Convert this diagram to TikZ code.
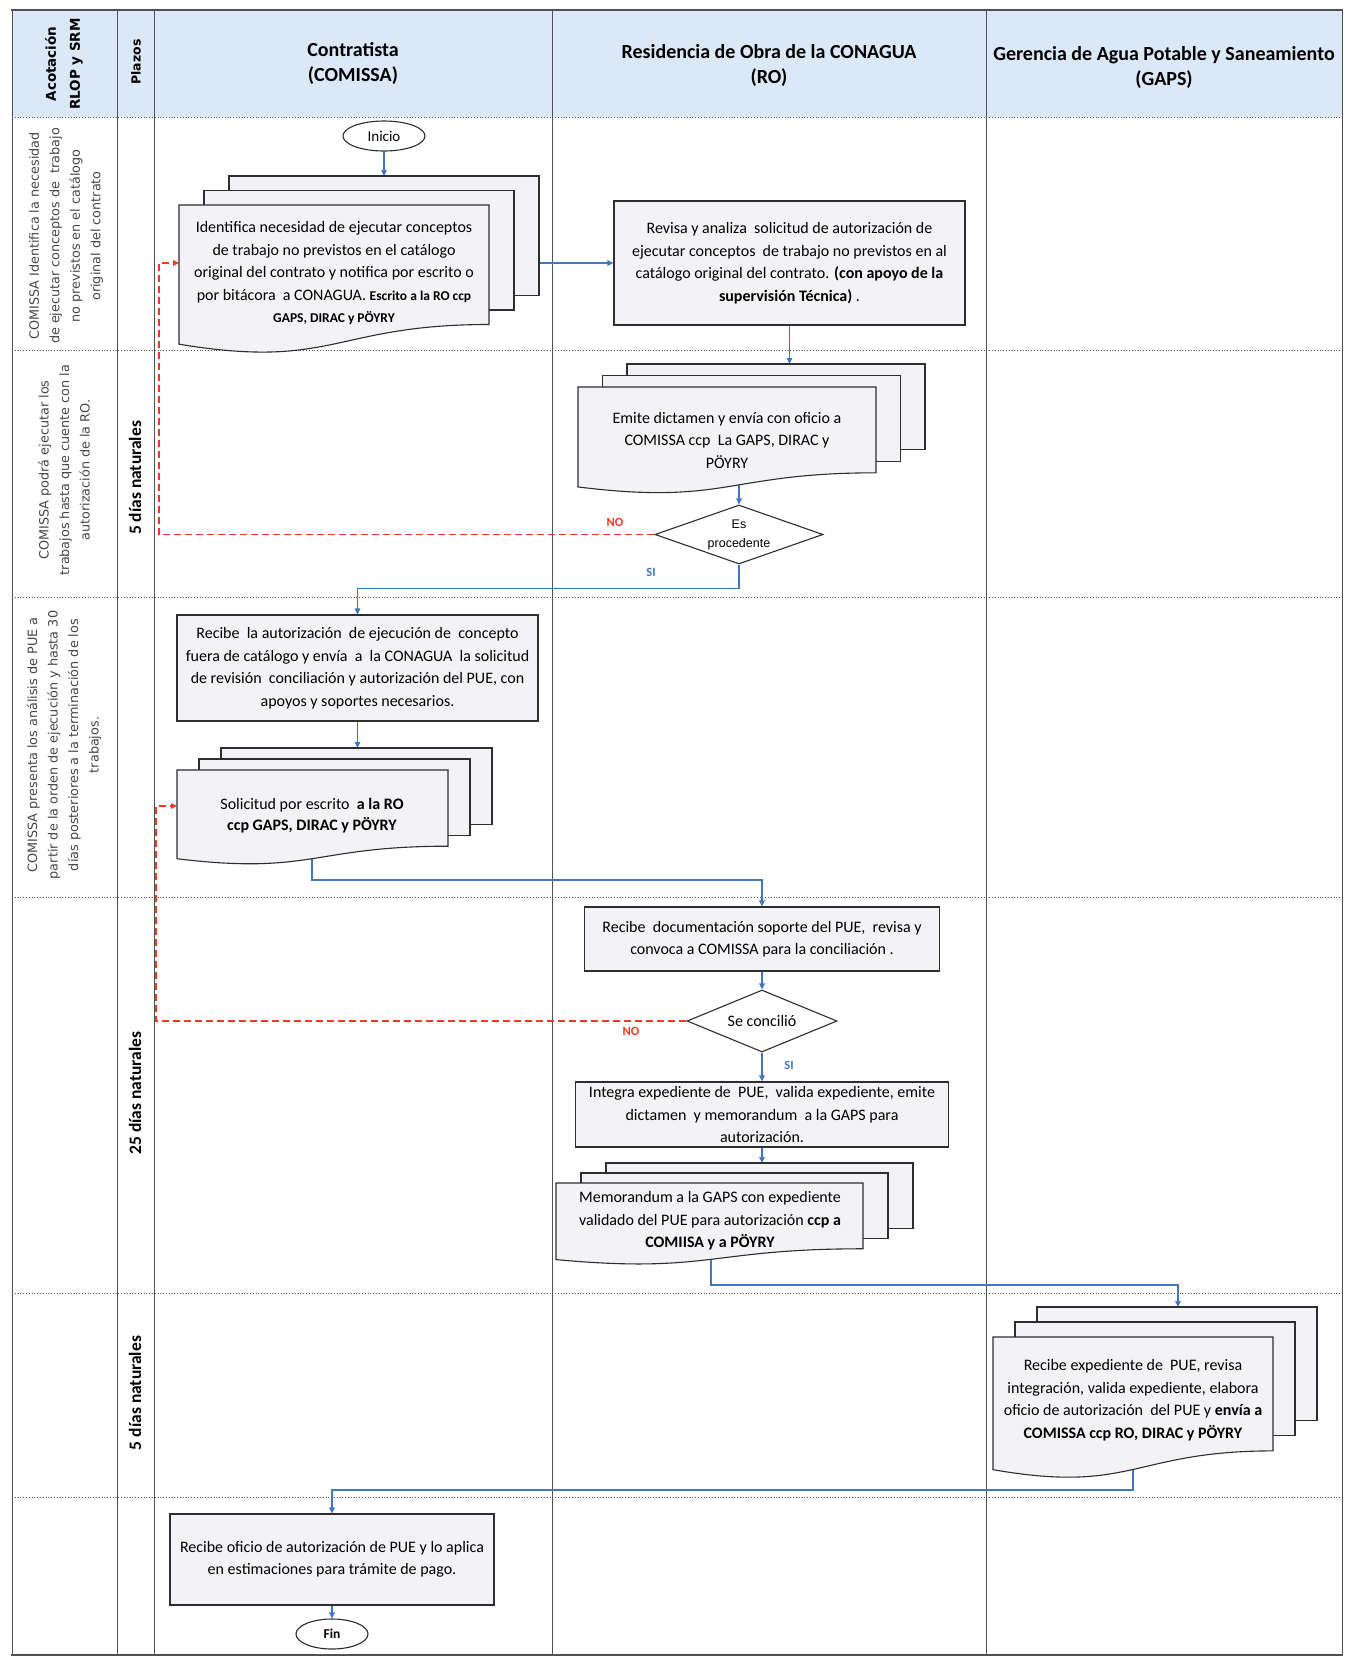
\documentclass[tikz,border=0pt]{standalone}
\usepackage{fontspec}
\setmainfont{Carlito}
\newfontfamily\dvs{DejaVu Sans}
\newfontfamily\lib{Liberation Sans}
\usetikzlibrary{arrows.meta,shapes.geometric,calc}
\pgfdeclarelayer{bg}
\pgfdeclarelayer{conn}
\pgfsetlayers{bg,conn,main}
\definecolor{hdr}{RGB}{218,232,247}
\definecolor{boxfill}{RGB}{243,243,246}
\definecolor{flow}{RGB}{62,120,192}
\definecolor{noline}{RGB}{236,58,36}
\definecolor{edge}{RGB}{45,45,50}
\definecolor{gridc}{RGB}{80,80,85}
\definecolor{note}{RGB}{70,70,75}
\tikzset{
  boxtxt/.style={font=\fontsize{16}{22.5}\selectfont, align=center, text=black},
  proc/.style={draw=edge, line width=1.1pt, fill=boxfill, inner sep=0pt, boxtxt},
  docline/.style={draw=edge, line width=1.1pt, fill=boxfill},
  flowarrow/.style={draw=flow, line width=1.4pt, -{Triangle[length=6pt,width=5.5pt]}},
  noarrow/.style={draw=noline, line width=1.9pt, dash pattern=on 7pt off 4pt, -{Triangle[length=6pt,width=5.5pt]}},
  term/.style={ellipse, draw=edge, line width=1.1pt, fill=white, inner sep=0pt},
  dec/.style={diamond, draw=edge, line width=1.1pt, fill=white, inner sep=0pt},
  annot/.style={rotate=90, align=center, text=note, font=\dvs\fontsize{12.8}{20.5}\selectfont},
  plazo/.style={rotate=90, font=\bfseries\fontsize{17.5}{20}\selectfont},
  hdrtxt/.style={font=\bfseries\fontsize{20}{25}\selectfont, align=center},
  nolbl/.style={font=\bfseries\fontsize{12.5}{14}\selectfont, text=noline},
  silbl/.style={font=\bfseries\fontsize{12.5}{14}\selectfont, text=flow},
  anchorbox/.style={inner sep=0pt, outer sep=0pt}
}
% multidocument: name, L, R, T, h, dx, dy
\newcommand\mdoc[7]{%
  \pgfmathsetmacro\mdyR{#4+0.802*#5}%
  \pgfmathsetmacro\mdyL{#4+0.934*#5}%
  \pgfmathsetmacro\mdyC{#4+1.107*#5}%
  \pgfmathsetmacro\mdxM{(#2+#3)/2}%
  \pgfmathsetmacro\mdW{#3-#2}%
  \pgfmathsetmacro\mdH{\mdyL-#4}%
  \pgfmathsetmacro\mdYc{(#4+\mdyL)/2}%
  \pgfmathsetmacro\mdWa{#3+2*#6-#2}%
  \pgfmathsetmacro\mdHa{\mdyL-#4+2*#7}%
  \pgfmathsetmacro\mdXa{(#2+#3+2*#6)/2}%
  \pgfmathsetmacro\mdYa{(#4-2*#7+\mdyL)/2}%
  \draw[docline] (#2+2*#6,#4-2*#7) rectangle (#3+2*#6,\mdyR-2*#7);
  \draw[docline] (#2+#6,#4-#7) rectangle (#3+#6,\mdyR-#7);
  \draw[docline] (#2,#4) -- (#3,#4) -- (#3,\mdyR) .. controls (\mdxM,\mdyR) and (\mdxM,\mdyC) .. (#2,\mdyL) -- cycle;
  \path (\mdxM,\mdYc) node[anchorbox, minimum width=\mdW pt, minimum height=\mdH pt] (#1f) {};
  \path (\mdXa,\mdYa) node[anchorbox, minimum width=\mdWa pt, minimum height=\mdHa pt] (#1) {};
}
\begin{document}
\begin{tikzpicture}[x=1pt,y=-1pt]
\useasboundingbox (0,0) rectangle (1346,1658);
\begin{pgfonlayer}{bg}
  \fill[white] (0,0) rectangle (1346,1658);
  \fill[hdr] (12,10) rectangle (1342,117);
  \foreach \yy in {117,350,597,897,1293,1497}
    \draw[gridc, line width=0.8pt, dotted] (12,\yy) -- (1342,\yy);
  \foreach \xx in {12,117,154,552,986,1342}
    \draw[gridc, line width=0.9pt] (\xx,10) -- (\xx,1655);
  \draw[gridc, line width=2.6pt] (11,10) -- (1343,10);
  \draw[gridc, line width=1.4pt] (11,1655) -- (1343,1655);
\end{pgfonlayer}

% header
\node[rotate=90, font=\dvs\bfseries\fontsize{13.5}{24}\selectfont, align=center] (h1) at (64,64) {Acotación\\RLOP y SRM};
\node[rotate=90, font=\dvs\bfseries\fontsize{12.5}{14}\selectfont] (h2) at (136,62) {Plazos};
\node[hdrtxt] (h3) at (353,63) {Contratista\\(COMISSA)};
\node[hdrtxt] (h4) at (769,65) {Residencia de Obra de la CONAGUA\\(RO)};
\node[hdrtxt] (h5) at (1164,67) {Gerencia de Agua Potable y Saneamiento\\(GAPS)};

% left annotations
\node[annot] (a1) at (66,236) {COMISSA Identifica la necesidad\\de ejecutar conceptos de\ \ trabajo\\no previstos en el catálogo\\original del contrato};
\node[annot] (a2) at (64,470) {COMISSA podrá ejecutar los\\trabajos hasta que cuente con la\\autorización de la RO.};
\node[annot] (a3) at (64,745) {COMISSA presenta los análisis de PUE a\\partir de la orden de ejecución y hasta 30\\días posteriores a la terminación de los\\trabajos.};
\node[plazo] (p2) at (135,478) {5 días naturales};
\node[plazo] (p4) at (135,1093) {25 días naturales};
\node[plazo] (p5) at (135,1393) {5 días naturales};

% shapes
\node[term, minimum width=82pt, minimum height=30pt, font=\fontsize{15}{16}\selectfont] (ini) at (384,136) {Inicio};
\mdoc{sa}{179}{489}{205}{149}{25}{14.5}
\node[boxtxt] (sat) at (334,273) {Identifica necesidad de ejecutar conceptos\\de trabajo no previstos en el catálogo\\original del contrato y notifica por escrito o\\por bitácora\ \ a CONAGUA. {\bfseries\fontsize{13.5}{22.5}\selectfont Escrito a la RO ccp}\\{\bfseries\fontsize{13.5}{22.5}\selectfont GAPS, DIRAC y PÖYRY}};
\node[proc, minimum width=351pt, minimum height=124pt] (rev) at (789.5,263) {Revisa y analiza\ \ solicitud de autorización de\\ejecutar conceptos\ \ de trabajo no previstos en al\\catálogo original del contrato. \textbf{(con apoyo de la}\\\textbf{supervisión Técnica)} .};
\mdoc{sb}{578}{876}{387}{107}{24.5}{11.5}
\node[boxtxt] (sbt) at (727,440) {Emite dictamen y envía con oficio a\\COMISSA ccp\ \ La GAPS, DIRAC y\\PÖYRY};
\node[dec, shape aspect=2.85, minimum width=168pt, minimum height=59pt, font=\lib\fontsize{12.5}{19}\selectfont, align=center] (d1) at (739,534.5) {Es\\procedente};
\node[nolbl] (no1) at (615,522) {NO};
\node[silbl] (si1) at (651,572) {SI};

\node[proc, minimum width=361pt, minimum height=106pt] (b3) at (357.5,668) {Recibe\ \ la autorización\ \ de ejecución de\ \ concepto\\fuera de catálogo y envía\ \ a\ \ la CONAGUA\ \ la solicitud\\de revisión\ \ conciliación y autorización del PUE, con\\apoyos y soportes necesarios.};
\mdoc{sc}{177}{448}{770}{95}{22}{11}
\node[boxtxt, font=\fontsize{16}{21}\selectfont] (sct) at (312,816) {Solicitud por escrito\ \ \textbf{a la RO}\\\textbf{ccp GAPS, DIRAC y PÖYRY}};

\node[proc, minimum width=355pt, minimum height=64pt] (b4) at (762,939) {Recibe\ \ documentación soporte del PUE,\ \ revisa y\\convoca a COMISSA para la conciliación .};
\node[dec, shape aspect=2.4, minimum width=150pt, minimum height=62pt, font=\fontsize{16}{17}\selectfont] (d2) at (762,1021) {Se concilió};
\node[nolbl] (no2) at (631,1031) {NO};
\node[silbl] (si2) at (789,1065) {SI};
\node[proc, minimum width=373pt, minimum height=65pt] (b5) at (762,1114.5) {Integra expediente de\ \ PUE,\ \ valida expediente, emite\\dictamen\ \ y memorandum\ \ a la GAPS para\\autorización.};
\mdoc{sd}{556}{863}{1183}{82}{25}{10}
\node[boxtxt] (sdt) at (710,1221) {Memorandum a la GAPS con expediente\\validado del PUE para autorización \textbf{ccp a}\\\textbf{COMIISA y a PÖYRY}};

\mdoc{se}{993}{1273}{1337}{142}{22}{15}
\node[boxtxt] (set) at (1133,1400) {Recibe expediente de\ \ PUE, revisa\\integración, valida expediente, elabora\\oficio de autorización\ \ del PUE y \textbf{envía a}\\\textbf{COMISSA ccp RO, DIRAC y PÖYRY}};

\node[proc, minimum width=324pt, minimum height=91pt] (b6) at (332,1559.5) {Recibe oficio de autorización de PUE y lo aplica\\en estimaciones para trámite de pago.};
\node[term, minimum width=72pt, minimum height=30pt, font=\bfseries\fontsize{13.5}{15}\selectfont] (fin) at (332,1634) {Fin};

% helper coordinates
\coordinate (n1) at (159,263);
\coordinate (n2) at (156,806);
\coordinate (j3) at (312,880);
\coordinate (j4) at (711,1285);
\coordinate (j5) at (1178,1285);
\coordinate (j6) at (1133,1490);

\begin{pgfonlayer}{conn}
  \draw[flowarrow] (ini) -- (ini |- sa.north);
  \draw[flowarrow] (sa.east |- rev.west) -- (rev.west);
  \draw[flowarrow] (rev.south) -- (rev.south |- sb.north);
  \draw[flowarrow] (d1.north |- sbf.center) -- (d1.north);
  \draw[flowarrow] (d1.south) -- ++(0,24) -| (b3.north);
  \draw[noarrow] (d1.west) -| (n1) -- (n1 -| saf.west);
  \draw[flowarrow] (b3.south) -- (b3.south |- sc.north);
  \draw[flowarrow] (j3 |- scf.center) -- (j3) -| (b4.north);
  \draw[flowarrow] (b4.south) -- (d2.north);
  \draw[noarrow] (d2.west) -| (n2) -- (n2 -| scf.west);
  \draw[flowarrow] (d2.south) -- (b5.north);
  \draw[flowarrow] (b5.south) -- (b5.south |- sd.north);
  \draw[flowarrow] (j4 |- sdf.center) -- (j4) -- (j5) -- (j5 |- se.north);
  \draw[flowarrow] (j6 |- sef.center) -- (j6) -| (b6.north);
  \draw[flowarrow] (b6.south) -- (fin.north);
\end{pgfonlayer}
\end{tikzpicture}
\end{document}
